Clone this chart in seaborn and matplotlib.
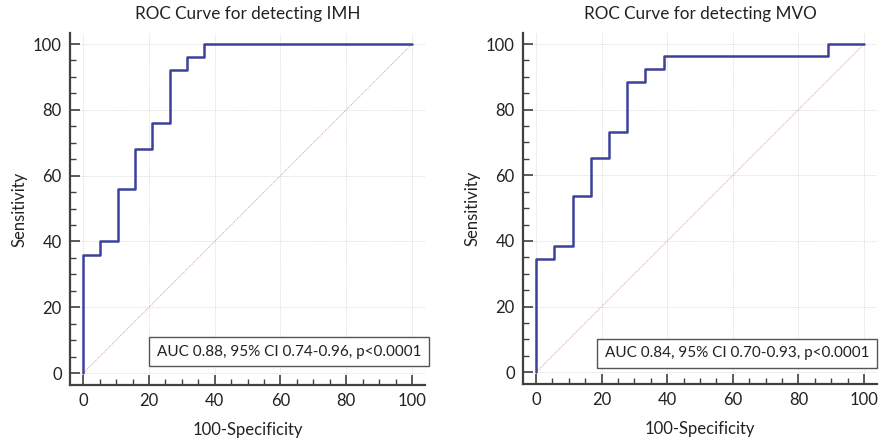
import matplotlib
matplotlib.use("Agg")
import matplotlib.pyplot as plt
import seaborn as sns
import pandas as pd
from matplotlib.ticker import MultipleLocator

# ROC points (100-Specificity, Sensitivity), drawn as steps
imh_fpr = [0, 0, 5.26, 10.53, 15.79, 21.05, 26.32, 31.58, 36.84, 100]
imh_sens = [0, 36, 40, 56, 68, 76, 92, 96, 100, 100]
mvo_fpr = [0, 0, 5.56, 11.11, 16.67, 22.22, 27.78, 33.33, 38.89, 88.89, 100]
mvo_sens = [0, 34.6, 38.5, 53.8, 65.4, 73.1, 88.5, 92.3, 96.2, 100, 100]
diag = [0, 100]

titles = ["ROC Curve for detecting IMH", "ROC Curve for detecting MVO"]
auc_text = ["AUC 0.88, 95% CI 0.74-0.96, p<0.0001",
            "AUC 0.84, 95% CI 0.70-0.93, p<0.0001"]

sns.set_style("white")
plt.rcParams["font.family"] = ["Lato", "DejaVu Sans"]

fig = plt.figure(figsize=(8.9, 4.44), dpi=100)
axes = [fig.add_axes([0.0787, 0.133, 0.399, 0.793]),
        fig.add_axes([0.5876, 0.135, 0.398, 0.791])]
box_pos = [(0.99, 0.094), (0.978, 0.088)]

curves = [(imh_fpr, imh_sens), (mvo_fpr, mvo_sens)]
for i, ax in enumerate(axes):
    fpr, sens = curves[i]
    df = pd.DataFrame({"fpr": fpr, "sens": sens})
    sns.lineplot(x=diag, y=diag, ax=ax, color="#e49aa4", lw=0.7,
                 linestyle=(0, (1, 1)))
    sns.lineplot(data=df, x="fpr", y="sens", ax=ax, sort=False, estimator=None,
                 drawstyle="steps-post", color="#3c4199", lw=1.8)
    ax.set_xlim(-4, 104)
    ax.set_ylim(-3.6, 103.4)
    ax.xaxis.set_major_locator(MultipleLocator(20))
    ax.xaxis.set_minor_locator(MultipleLocator(5))
    ax.yaxis.set_major_locator(MultipleLocator(20))
    ax.yaxis.set_minor_locator(MultipleLocator(5))
    ax.set_xticks(range(0, 101, 20))
    ax.set_yticks(range(0, 101, 20))
    ax.tick_params(which="major", direction="in", length=7, width=1.2,
                   color="#404040", labelsize=12, labelcolor="#222222", pad=6,
                   left=True, bottom=True)
    ax.tick_params(which="minor", direction="in", length=4, width=1,
                   color="#404040", left=True, bottom=True)
    ax.grid(True, which="major", color="#d8d8d8", lw=0.6, linestyle=(0, (1, 1)))
    for side in ["top", "right"]:
        ax.spines[side].set_visible(False)
    for side in ["left", "bottom"]:
        ax.spines[side].set_color("#404040")
        ax.spines[side].set_linewidth(1.6)
    ax.set_xlabel("100-Specificity", fontsize=12, color="#222222", labelpad=9)
    ax.set_ylabel("Sensitivity", fontsize=12, color="#222222", labelpad=4)
    ax.set_title(titles[i], fontsize=12.3, color="#222222", pad=10)
    ax.text(box_pos[i][0], box_pos[i][1], auc_text[i], transform=ax.transAxes,
            ha="right", va="center", fontsize=11, color="#222222", clip_on=False,
            bbox=dict(boxstyle="square,pad=0.5", fc="white", ec="#555555", lw=1))

fig.savefig("out.png", dpi=100)
